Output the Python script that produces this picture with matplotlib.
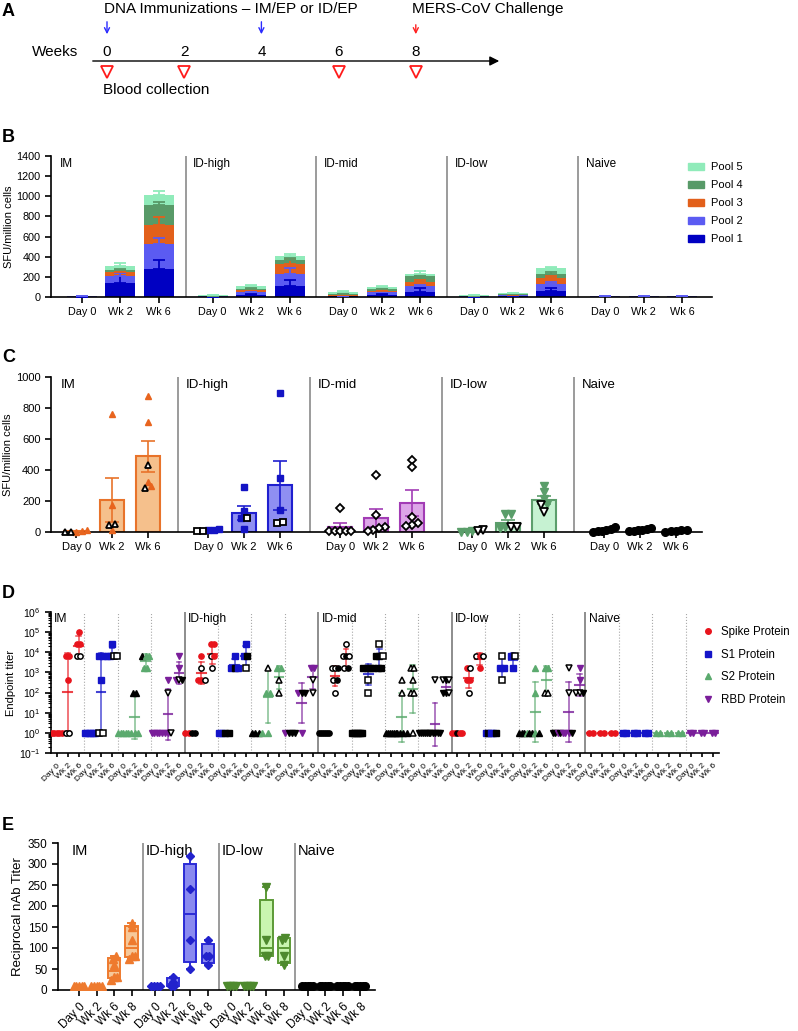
import numpy as np
import matplotlib
matplotlib.use('Agg')
import matplotlib.pyplot as plt
from matplotlib.patches import Patch
from matplotlib.lines import Line2D
from matplotlib.ticker import LogLocator, NullFormatter

plt.rcParams['font.family'] = ['Liberation Sans', 'DejaVu Sans']
plt.rcParams['mathtext.fontset'] = 'custom'
plt.rcParams['mathtext.rm'] = 'Liberation Sans'
plt.rcParams['mathtext.default'] = 'regular'
plt.rcParams['axes.linewidth'] = 1.2

# ---------------- data ----------------
# panel A timeline
weeks = [0, 2, 4, 6, 8]
immun_weeks = [0, 4]
challenge_weeks = [8]
blood_weeks = [0, 2, 6, 8]

# panel B: stacked pools (segment means) and SEM, order IM d0,w2,w6, ID-high..., Naive
groups_b = ['IM', 'ID-high', 'ID-mid', 'ID-low', 'Naive']
times_b = ['Day 0', 'Wk 2', 'Wk 6']
pool_names = ['Pool 1', 'Pool 2', 'Pool 3', 'Pool 4', 'Pool 5']
pool1 = [2, 138, 280, 3, 20, 108, 5, 23, 52, 2, 8, 62, 1, 1, 1]
pool2 = [8, 72, 245, 3, 26, 125, 8, 23, 53, 3, 8, 72, 5, 6, 6]
pool3 = [1, 39, 185, 4, 20, 92, 7, 16, 39, 3, 8, 50, 3, 1, 1]
pool4 = [1, 23, 202, 2, 16, 39, 12, 20, 63, 6, 6, 49, 1, 1, 1]
pool5 = [1, 33, 103, 3, 23, 39, 18, 16, 26, 6, 6, 52, 1, 1, 1]
err1 = [1, 108, 84, 1, 10, 62, 3, 10, 33, 1, 4, 23, 0, 0, 0]
err2 = [2, 25, 65, 1, 8, 56, 4, 8, 18, 1, 4, 17, 1, 1, 1]
err3 = [0, 7, 85, 1, 8, 52, 3, 6, 23, 1, 3, 23, 0, 0, 0]
err4 = [0, 7, 33, 1, 6, 20, 5, 8, 15, 2, 3, 15, 0, 0, 0]
err5 = [0, 30, 33, 1, 13, 20, 8, 13, 26, 2, 3, 17, 0, 0, 0]

# panel C: per animal SFU, filled (group colour) and open (black) points
c_filled = [
    [[5, 10, 3], [760, 172, 10], [880, 707, 322, 295]],
    [[15, 20, 10], [290, 133, 90, 21], [900, 350, 140]],
    [[], [], []],
    [[5, 0, 3], [118, 118, 26, 32], [300, 260, 210, 180]],
    [[30, 20, 10, 5, 5, 3], [25, 20, 15, 10, 8, 5], [15, 10, 5, 5, 3]],
]
c_open = [
    [[0, 0], [50, 43], [435, 286]],
    [[5, 5], [90], [60, 62]],
    [[155, 5, 5, 5, 5, 5], [370, 110, 30, 25, 15, 5], [465, 420, 97, 58, 47, 37]],
    [[10, 5], [32, 32], [172, 129]],
    [[], [], []],
]

# panel D: endpoint titers, "value+style" (c coloured, k black, o open)
proteins = ['Spike Protein', 'S1 Protein', 'S2 Protein', 'RBD Protein']
d_im = [
    ["1c 1c 1c 1c 1c", "6400c 6400c 400c 1o 1o", "102400c 25600c 25600c 6400o 6400o"],
    ["1c 1c 1c 1c 1c", "6400c 6400c 400c 1o 1o", "25600c 6400c 6400c 6400o 6400o"],
    ["1c 1c 1c 1c 1c", "100k 100k 1c 1c 1c", "6400k 6400c 6400c 1600c 1600c"],
    ["1c 1c 1c 1c 1c", "400c 100o 1c 1c 1o", "6400c 1600c 400c 400o 400k"],
]
d_high = [
    ["1c 1c 1k 1k", "6400c 1600o 400c 400c 400o", "25600c 25600c 6400o 6400c 1600o"],
    ["1c 1c 1k 1k", "6400c 1600c 1600k 1600c", "25600c 6400c 6400k 1600o"],
    ["1k 1k 1k 1c", "1600o 100c 100c 1c", "1600c 1600c 400o 100o"],
    ["1c 1k 1k 1k", "100c 100k 100k 1c", "1600c 1600c 400o 100o"],
]
d_mid = [
    ["1k 1k 1k 1k 1k 1k", "1600o 1600o 1600k 400o 400k 100o", "25600o 6400o 6400k 6400o 1600o 1600k"],
    ["1k 1k 1k 1k 1k 1k", "1600k 1600k 1600k 1600k 400o 100o", "25600o 6400k 6400k 6400o 1600k 1600k"],
    ["1k 1k 1k 1k 1k 1k", "400o 100o 1k 1k 1k 1k", "1600o 1600o 400o 100o 100o 1o"],
    ["1k 1k 1k 1k 1k 1k", "400o 1k 1k 1k 1k 1k", "400o 400k 400o 100k 100k 100o"],
]
d_low = [
    ["1c 1c 1k 1c 1c", "1600c 1600o 400c 400c 100o", "6400o 6400c 6400o 1600c"],
    ["1c 1k 1c 1c 1k", "6400o 1600c 1600c 400o", "6400c 6400o 1600c"],
    ["1k 1k 1k 1c 1k", "1600c 100c 1k 1c 1k", "1600c 1600c 100o 100o"],
    ["1k 1k 1c 1k 1c", "1600o 100o 1c 1c 1k", "1600c 400c 100o 100o 100k"],
]
d_naive = [["1c 1c", "1c 1c", "1c 1c"] for _ in range(4)]

# panel E: reciprocal nAb titers
groups_e = ['IM', 'ID-high', 'ID-low', 'Naive']
times_e = ['Day 0', 'Wk 2', 'Wk 6', 'Wk 8']
e_im = [[10, 10, 10, 10, 10], [10, 10, 10, 10, 10], [80, 75, 60, 30, 30, 25], [160, 150, 120, 80, 80, 75]]
e_high = [[10, 10, 10, 10], [30, 20, 10, 10], [320, 240, 120, 50], [120, 80, 80, 60]]
e_low = [[10, 10, 10, 10], [10, 10, 10, 10], [245, 120, 80, 80], [125, 120, 80, 60]]
e_naive = [[10, 10, 10, 10, 10], [10, 10, 10, 10, 10], [10, 10, 10, 10, 10], [10, 10, 10, 10, 10]]

# ---------------- helpers ----------------
W, H = 798, 1031
fig = plt.figure(figsize=(W / 100, H / 100), dpi=100)


def box(l, t, r, b):
    return [l / W, 1 - b / H, (r - l) / W, (b - t) / H]


def spread(vals, step, tol, maxw=0.6):
    # side-by-side offsets for points with (nearly) the same value
    vals = np.asarray(vals, float)
    offs = np.zeros(len(vals))
    order = np.argsort(vals, kind='stable')
    i = 0
    while i < len(order):
        j = i
        while j + 1 < len(order) and abs(vals[order[j + 1]] - vals[order[i]]) <= tol:
            j += 1
        k = j - i + 1
        st = min(step, maxw / max(k - 1, 1))
        offs[order[i:j + 1]] = (np.arange(k) - (k - 1) / 2) * st
        i = j + 1
    return offs


def style_axes(ax):
    for s in ['top', 'right']:
        ax.spines[s].set_visible(False)
    ax.tick_params(direction='out', width=1.2, length=4)


def letter(x, y, s):
    fig.text(x / W, 1 - y / H, s, fontsize=13, fontweight='bold', va='center', ha='left')


# ---------------- panel A ----------------
axa = fig.add_axes([0, 1 - 100 / H, 1, 100 / H])
pxw = 38.6
axa.set_xlim(-107 / pxw, (W - 107) / pxw)
axa.set_ylim(100, 0)
axa.axis('off')
axa.annotate('', xy=((502 - 107) / pxw, 61), xytext=((90 - 107) / pxw, 61),
             arrowprops=dict(arrowstyle='-|>', color='black', lw=1, mutation_scale=14))
for w in weeks:
    axa.text(w, 52, str(w), ha='center', va='center', fontsize=11)
axa.text((32 - 107) / pxw, 52, 'Weeks', ha='left', va='center', fontsize=11)
for w in immun_weeks:
    axa.annotate('', xy=(w, 37), xytext=(w, 19),
                 arrowprops=dict(arrowstyle='->', color='#2b2bff', lw=1, mutation_scale=9))
for w in challenge_weeks:
    axa.annotate('', xy=(w, 37), xytext=(w, 22),
                 arrowprops=dict(arrowstyle='->', color='#ff2020', lw=1, mutation_scale=9))
axa.plot(blood_weeks, [72] * len(blood_weeks), 'v', ms=8, mfc='white', mec='#ff1a1a', mew=1.3)
axa.text(-0.08, 9, 'DNA Immunizations \u2013 IM/EP or ID/EP', ha='left', va='center', fontsize=11)
axa.text(challenge_weeks[0] - 0.1, 9, 'MERS-CoV Challenge', ha='left', va='center', fontsize=11)
axa.text(-0.1, 90, 'Blood collection', ha='left', va='center', fontsize=11)
letter(2, 12, 'A')

# ---------------- panel B ----------------
axb = fig.add_axes(box(51, 156, 712, 297))
style_axes(axb)
pool_colors = ['#0000C2', '#5B5BF2', '#E2601B', '#589A68', '#90EBBA']
pools = [pool1, pool2, pool3, pool4, pool5]
errs = [err1, err2, err3, err4, err5]
xb = np.array([g * 3.4 + t for g in range(5) for t in range(3)])
bottom = np.zeros(len(xb))
tops = []
for vals, col in zip(pools, pool_colors):
    axb.bar(xb, vals, 0.78, bottom=bottom, color=col, zorder=2)
    bottom = bottom + np.array(vals)
    tops.append(bottom.copy())
for top, er, col in zip(tops, errs, pool_colors):
    er = np.array(er)
    m = er > 0
    axb.errorbar(xb[m], top[m], yerr=[np.zeros(m.sum()), er[m]], fmt='none',
                 ecolor=col, elinewidth=1.3, capsize=4.5, capthick=1.3, zorder=3)
axb.set_xlim(-0.8, 16.38)
axb.set_ylim(0, 1400)
axb.set_yticks(range(0, 1401, 200))
axb.set_xticks(xb, times_b * 5)
axb.tick_params(labelsize=7.8)
axb.set_ylabel('SFU/million cells', fontsize=8, labelpad=2)
for g, name in enumerate(groups_b):
    if g > 0:
        axb.plot([g * 3.4 - 0.7] * 2, [0, 1400], color='#8a8a8a', lw=1.2, zorder=1)
        axb.text(g * 3.4 - 0.5, 1385, name, fontsize=8.5, va='top', ha='left')
    else:
        axb.text(-0.57, 1385, name, fontsize=8.5, va='top', ha='left')
handles = [Patch(color=c, label=n) for c, n in zip(pool_colors, pool_names)][::-1]
fig.legend(handles=handles, loc='center left', bbox_to_anchor=(678 / W, 1 - 203 / H),
           frameon=False, fontsize=8, handlelength=1.4, handleheight=0.6,
           labelspacing=0.72, handletextpad=0.7)
letter(2, 138, 'B')

# ---------------- panel C ----------------
axc = fig.add_axes(box(51, 377, 702, 532))
style_axes(axc)
c_marker = ['^', 's', 'D', 'v', 'o']
c_color = ['#E8641E', '#1414C4', '#A53DB8', '#5A9E6A', 'black']
c_fill = ['#F5C08C', '#8F8FF2', '#DDA6E8', '#C6F2D2', 'black']
c_edge = ['#E8732A', '#1F1FCF', '#A23CB5', '#5C9E6C', 'black']
c_ms = [5, 5, 4.2, 5.5, 5.5]
xc = []
for g in range(5):
    for t in range(3):
        x = g * 3.67 + t
        xc.append(x)
        vals = c_filled[g][t] + c_open[g][t]
        nf = len(c_filled[g][t])
        v = np.array(vals, float)
        mean = v.mean()
        sem = v.std(ddof=1) / np.sqrt(len(v))
        axc.bar(x, mean, 0.65, color=c_fill[g], edgecolor=c_edge[g], lw=1.5, zorder=2)
        axc.errorbar(x, mean, yerr=sem, fmt='none', ecolor=c_edge[g], elinewidth=1.2,
                     capsize=5, capthick=1.2, zorder=3)
        offs = spread(v, 0.16, 30)
        for i, val in enumerate(v):
            if i < nf:
                axc.plot(x + offs[i], val, c_marker[g], ms=c_ms[g], color=c_color[g],
                         mec=c_color[g], zorder=4, clip_on=False)
            else:
                axc.plot(x + offs[i], val, c_marker[g], ms=c_ms[g], mfc='white',
                         mec='black', mew=1.3, zorder=4, clip_on=False)
axc.set_xlim(-0.7, 17.4)
axc.set_ylim(0, 1000)
axc.set_yticks(range(0, 1001, 200))
axc.set_xticks(xc, times_b * 5)
axc.tick_params(labelsize=8)
axc.set_ylabel('SFU/million cells', fontsize=8, labelpad=2)
for g, name in enumerate(groups_b):
    if g > 0:
        axc.plot([g * 3.67 - 0.83] * 2, [0, 1000], color='#8a8a8a', lw=1.2, zorder=1)
        axc.text(g * 3.67 - 0.63, 985, name, fontsize=9.5, va='top', ha='left')
    else:
        axc.text(-0.44, 985, name, fontsize=9.5, va='top', ha='left')
letter(2, 357, 'C')

# ---------------- panel D ----------------
axd = fig.add_axes(box(51, 612, 719, 753))
style_axes(axd)
axd.set_yscale('log')
d_groups = [d_im, d_high, d_mid, d_low, d_naive]
d_names = ['IM', 'ID-high', 'ID-mid', 'ID-low', 'Naive']
d_marker = ['o', 's', '^', 'v']
d_color = ['#E8141C', '#1414C8', '#5BAA6E', '#7A1E9A']
t_off = [0.17, 0.5, 0.83]
xd, xd_lab = [], []
for g, gdata in enumerate(d_groups):
    for p in range(4):
        b = g * 4 + p
        for t in range(3):
            x = b + t_off[t]
            xd.append(x)
            xd_lab.append(times_b[t])
            items = gdata[p][t].split()
            v = np.array([float(s[:-1]) for s in items])
            st = [s[-1] for s in items]
            lv = np.log10(v)
            m = lv.mean()
            sd = lv.std(ddof=1) if len(lv) > 1 else 0
            if sd > 0:
                axd.plot([x, x], [10 ** (m - sd), 10 ** (m + sd)], color=d_color[p], lw=1.1,
                         alpha=0.75, zorder=2)
                for yy in (m - sd, m + sd):
                    axd.plot([x - 0.07, x + 0.07], [10 ** yy] * 2, color=d_color[p], lw=1.1,
                             alpha=0.75, zorder=2)
            axd.plot([x - 0.13, x + 0.13], [10 ** m] * 2, color=d_color[p], lw=1.5,
                     alpha=0.8, zorder=2)
            offs = spread(lv, 0.1, 0.01, maxw=0.3)
            for i in range(len(v)):
                if st[i] == 'c':
                    kw = dict(color=d_color[p], mec=d_color[p])
                elif st[i] == 'k':
                    kw = dict(color='black', mec='black')
                else:
                    kw = dict(mfc='white', mec='black', mew=1.1)
                axd.plot(x + offs[i], v[i], d_marker[p], ms=3.8, zorder=3, **kw)
for b in range(1, 20):
    if b % 4 == 0:
        axd.plot([b, b], [0.1, 1e6], color='#7a7a7a', lw=1.2, zorder=1)
    else:
        axd.plot([b, b], [0.1, 1e6], color='#a8a8a8', lw=0.8, ls=':', zorder=1)
for g, name in enumerate(d_names):
    axd.text(g * 4 + 0.1, 10 ** 5.97, name, fontsize=8.7, va='top', ha='left')
axd.set_xlim(0, 20)
axd.set_ylim(0.1, 1e6)
axd.set_yticks([10.0 ** k for k in range(-1, 7)],
               ['$10^{%d}$' % k for k in range(-1, 7)])
axd.yaxis.set_minor_locator(LogLocator(base=10, subs=np.arange(2, 10), numticks=20))
axd.yaxis.set_minor_formatter(NullFormatter())
axd.tick_params(axis='y', which='minor', length=2.5, width=0.8)
axd.set_xticks(xd, xd_lab, rotation=45, ha='right', rotation_mode='anchor')
axd.tick_params(axis='x', labelsize=6, length=3)
axd.tick_params(axis='y', labelsize=7.5)
axd.set_ylabel('Endpoint titer', fontsize=8, labelpad=2)
handles = [Line2D([], [], ls='none', marker=mk, color=c, ms=4, label=n)
           for mk, c, n in zip(d_marker, d_color, proteins)]
fig.legend(handles=handles, loc='center left', bbox_to_anchor=(692 / W, 1 - 666 / H),
           frameon=False, fontsize=8.3, handlelength=1.0, labelspacing=0.9, handletextpad=0.6)
letter(2, 593, 'D')

# ---------------- panel E ----------------
axe = fig.add_axes(box(58, 843, 375, 990))
style_axes(axe)
e_groups = [e_im, e_high, e_low, e_naive]
e_marker = ['^', 'D', 'v', 'o']
e_mcol = ['#EE7A2E', '#2222CC', '#4E8A2E', 'black']
e_fill = ['#F6C89A', '#8A8AF0', '#C9F5B0', 'black']
e_edge = ['#EE7A2E', '#2B2BD6', '#5C9A36', 'black']
e_ms = [5.5, 4.5, 5.5, 5.5]
xe = []
for g, gdata in enumerate(e_groups):
    for t, vals in enumerate(gdata):
        x = g * 4.35 + t
        xe.append(x)
        v = np.array(vals, float)
        q1, med, q3 = np.percentile(v, [25, 50, 75], method='weibull')
        stats = [dict(med=med, q1=q1, q3=q3, whislo=v.min(), whishi=v.max(), fliers=[])]
        lw = 1.4
        axe.bxp(stats, positions=[x], widths=0.7, patch_artist=True, showfliers=False,
                boxprops=dict(facecolor=e_fill[g], edgecolor=e_edge[g], lw=lw),
                medianprops=dict(color=e_edge[g], lw=lw),
                whiskerprops=dict(color=e_edge[g], lw=lw),
                capprops=dict(color=e_edge[g], lw=lw), capwidths=0.35, manage_ticks=False)
        offs = spread(v, 0.17, 6)
        axe.plot(x + offs, v, e_marker[g], ms=e_ms[g], color=e_mcol[g], ls='none', zorder=4)
for g, name in enumerate(groups_e):
    if g > 0:
        axe.plot([g * 4.35 - 0.69] * 2, [0, 350], color='#8a8a8a', lw=1.2, zorder=1)
        axe.text(g * 4.35 - 0.55, 347, name, fontsize=10.5, va='top', ha='left')
    else:
        axe.text(-0.4, 347, name, fontsize=10.5, va='top', ha='left')
axe.set_xlim(-1.2, 16.9)
axe.set_ylim(0, 350)
axe.set_yticks(range(0, 351, 50))
axe.set_xticks(xe, times_e * 4, rotation=45, ha='right', rotation_mode='anchor')
axe.tick_params(labelsize=8.5)
axe.set_ylabel('Reciprocal nAb Titer', fontsize=9.5, labelpad=3)
letter(2, 825, 'E')

fig.savefig('out.png', dpi=100)
